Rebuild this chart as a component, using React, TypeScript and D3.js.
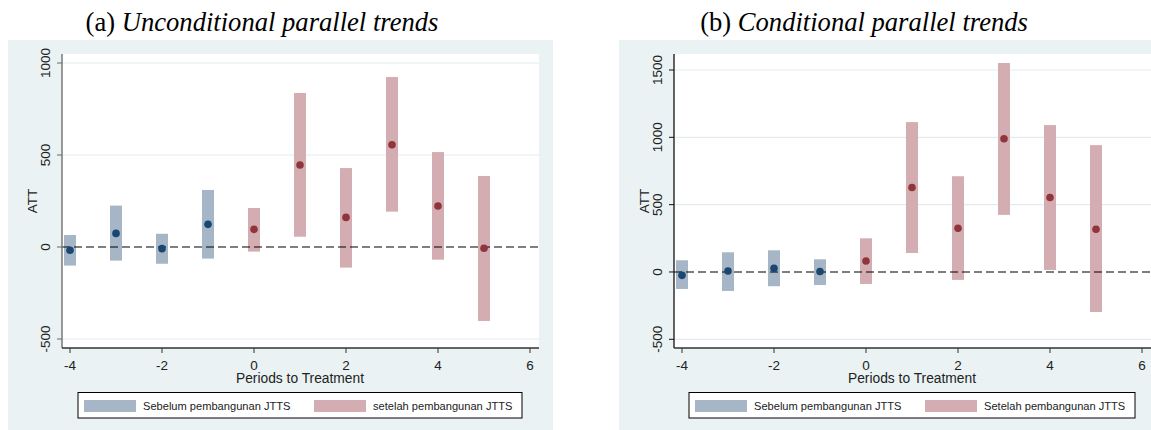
import React from "react";
import * as d3 from "d3";

// periods relative to treatment
const periods = [-4, -3, -2, -1, 0, 1, 2, 3, 4, 5];

// (a) unconditional parallel trends
const uncondEst = [-18, 74, -9, 123, 96, 446, 161, 556, 223, -7];
const uncondLo = [-101, -74, -91, -63, -25, 56, -112, 192, -69, -402];
const uncondHi = [65, 225, 72, 310, 212, 837, 429, 924, 516, 386];

// (b) conditional parallel trends
const condEst = [-25, 7, 27, 3, 82, 627, 325, 989, 553, 317];
const condLo = [-126, -141, -106, -97, -89, 141, -59, 424, 15, -297];
const condHi = [87, 146, 161, 94, 250, 1113, 711, 1552, 1091, 942];

const xTicks = [-4, -2, 0, 2, 4, 6];
const uncondYTicks = [-500, 0, 500, 1000];
const condYTicks = [-500, 0, 500, 1000, 1500];

const preLabel = "Sebelum pembangunan JTTS";
const uncondPostLabel = "setelah pembangunan JTTS";
const condPostLabel = "Setelah pembangunan JTTS";

const BG = "#eaf2f3";
const PRE_BAR = "#a6b6c6";
const PRE_DOT = "#1a476f";
const POST_BAR = "#d4adb2";
const POST_DOT = "#90353b";
const SANS = "'Liberation Sans', Arial, sans-serif";

function Panel({ tag, title, titleX, bg, plot, yDom, yRange, est, lo, hi, yTicks, postLabel, legend, axisColor }) {
  const x = d3.scaleLinear().domain([-4, 6]).range([plot.x0 + 8, plot.x0 + 468]);
  const y = d3.scaleLinear().domain(yDom).range(yRange);
  const rows = periods.map((p, i) => ({ p, est: est[i], lo: lo[i], hi: hi[i] }));
  const barW = 12;

  return (
    <g>
      <rect x={bg.x0} y={40} width={bg.x1 - bg.x0} height={390} fill={BG} />
      <text x={titleX} y={31} textAnchor="middle" fontFamily="'Liberation Serif', 'Times New Roman', serif" fontSize={26.6} fill="#000">
        {tag} <tspan fontStyle="italic">{title}</tspan>
      </text>
      <rect x={plot.x0} y={plot.y0} width={plot.x1 - plot.x0} height={plot.y1 - plot.y0} fill="#fff" />
      {yTicks.filter((t) => t !== 0).map((t) => (
        <line key={t} x1={plot.x0} x2={plot.x1} y1={y(t)} y2={y(t)} stroke="#e4ecee" strokeWidth={1.2} />
      ))}
      {rows.map((d) => (
        <rect
          key={"b" + d.p}
          x={x(d.p) - barW / 2}
          y={y(d.hi)}
          width={barW}
          height={y(d.lo) - y(d.hi)}
          fill={d.p < 0 ? PRE_BAR : POST_BAR}
        />
      ))}
      <line x1={plot.x0} x2={plot.x1} y1={y(0)} y2={y(0)} stroke="#000" strokeWidth={1.1} strokeDasharray="8,4" />
      {rows.map((d) => (
        <circle key={"c" + d.p} cx={x(d.p)} cy={y(d.est)} r={3.8} fill={d.p < 0 ? PRE_DOT : POST_DOT} />
      ))}
      {/* y axis */}
      <line x1={plot.x0} x2={plot.x0} y1={plot.y0} y2={plot.y1} stroke={axisColor} strokeWidth={1.3} />
      {yTicks.map((t) => (
        <g key={t}>
          <line x1={plot.x0 - 5} x2={plot.x0} y1={y(t)} y2={y(t)} stroke={axisColor} />
          <text
            transform={`translate(${plot.x0 - 17},${y(t)}) rotate(-90)`}
            textAnchor="middle"
            dy="0.35em"
            fontFamily={SANS}
            fontSize={13.5}
            fill="#222"
          >
            {t}
          </text>
        </g>
      ))}
      <text
        transform={`translate(${plot.x0 - 30},${(plot.y0 + plot.y1) / 2}) rotate(-90)`}
        textAnchor="middle"
        dy="0.35em"
        fontFamily={SANS}
        fontSize={13.5}
        fill="#222"
      >
        ATT
      </text>
      {/* x axis */}
      <line x1={plot.x0} x2={plot.x1} y1={plot.y1} y2={plot.y1} stroke="#333" strokeWidth={1.3} />
      {xTicks.map((t) => (
        <g key={t}>
          <line x1={x(t)} x2={x(t)} y1={plot.y1} y2={plot.y1 + 5} stroke="#333" />
          <text x={x(t)} y={plot.y1 + 22} textAnchor="middle" fontFamily={SANS} fontSize={13.5} fill="#222">
            {t}
          </text>
        </g>
      ))}
      <text x={x(1)} y={383} textAnchor="middle" fontFamily={SANS} fontSize={13.8} fill="#222">
        Periods to Treatment
      </text>
      {/* legend */}
      <rect x={legend.x0} y={392.5} width={legend.x1 - legend.x0} height={25.5} fill="#fff" stroke="#000" strokeWidth={1} />
      <rect x={legend.x0 + 6} y={400} width={52} height={12} fill={PRE_BAR} />
      <text x={legend.x0 + 65} y={410} fontFamily={SANS} fontSize={11.1} fill="#222">
        {preLabel}
      </text>
      <rect x={legend.x0 + legend.gap} y={400} width={52} height={12} fill={POST_BAR} />
      <text x={legend.x0 + legend.gap + 59} y={410} fontFamily={SANS} fontSize={11.1} fill="#222">
        {postLabel}
      </text>
    </g>
  );
}

export default function App() {
  return (
    <div style={{ position: "absolute", left: 0, top: 0 }}>
      <svg width={1151} height={430} style={{ display: "block" }}>
        <rect width={1151} height={430} fill="#fff" />
        <Panel
          tag="(a)"
          title="Unconditional parallel trends"
          titleX={262}
          bg={{ x0: 8, x1: 553 }}
          plot={{ x0: 62, x1: 539, y0: 54, y1: 348 }}
          yDom={[-500, 1000]}
          yRange={[339, 63]}
          est={uncondEst}
          lo={uncondLo}
          hi={uncondHi}
          yTicks={uncondYTicks}
          postLabel={uncondPostLabel}
          legend={{ x0: 78, x1: 522, gap: 236 }}
          axisColor="#666"
        />
        <Panel
          tag="(b)"
          title="Conditional parallel trends"
          titleX={864}
          bg={{ x0: 619, x1: 1151 }}
          plot={{ x0: 674, x1: 1152, y0: 54, y1: 348 }}
          yDom={[-500, 1500]}
          yRange={[339.3, 70]}
          est={condEst}
          lo={condLo}
          hi={condHi}
          yTicks={condYTicks}
          postLabel={condPostLabel}
          legend={{ x0: 689, x1: 1135, gap: 236 }}
          axisColor="#111"
        />
      </svg>
    </div>
  );
}
